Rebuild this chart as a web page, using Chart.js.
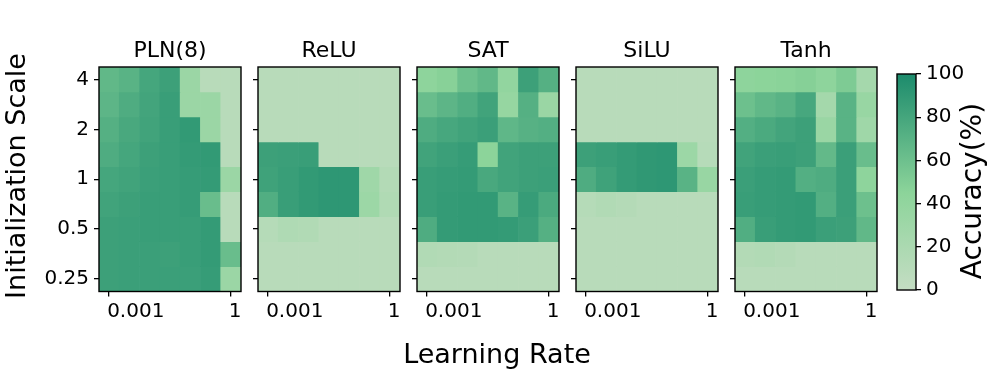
<!DOCTYPE html>
<html>
<head>
<meta charset="utf-8">
<script src="https://cdn.jsdelivr.net/npm/chart.js@4"></script>
<style>
  body { margin: 0; background: #fff; }
  #wrap { position: relative; width: 996px; height: 374px; overflow: hidden; font-family: "DejaVu Sans", sans-serif; }
  canvas { position: absolute; top: 0; }
  .lbl { position: absolute; font-size: 27px; line-height: 26px; color: #000; text-align: center; white-space: nowrap; }
  .ttl { position: absolute; font-size: 22px; line-height: 26px; color: #000; text-align: center; white-space: nowrap; top: 37px; width: 142px; }
</style>
</head>
<body>
<div id="wrap">
  <canvas id="c0" width="262" height="374"></canvas>
  <canvas id="c1" width="262" height="374"></canvas>
  <canvas id="c2" width="262" height="374"></canvas>
  <canvas id="c3" width="262" height="374"></canvas>
  <canvas id="c4" width="262" height="374"></canvas>
  <canvas id="cb" width="116" height="374"></canvas>
  <div class="ttl" id="t0"></div>
  <div class="ttl" id="t1"></div>
  <div class="ttl" id="t2"></div>
  <div class="ttl" id="t3"></div>
  <div class="ttl" id="t4"></div>
  <div class="lbl" style="left:0; width:994px; top:341px;">Learning Rate</div>
  <div class="lbl" style="left:-134px; width:300px; top:163px; transform:rotate(-90deg);">Initialization Scale</div>
  <div class="lbl" style="left:822px; width:300px; top:178px; font-size:28px; transform:rotate(-90deg);">Accuracy(%)</div>
</div>
<script>
// learning rates (columns) and init scales (rows, top to bottom)
const lrLabels = ['0.001', '0.00316', '0.01', '0.0316', '0.1', '0.316', '1'];
const scaleLabels = ['4', '2.83', '2', '1.41', '1', '0.71', '0.5', '0.35', '0.25'];
const xTickIdx = [0, 6];
const yTickIdx = [0, 2, 4, 6, 8];
const panelTitles = ['PLN(8)', 'ReLU', 'SAT', 'SiLU', 'Tanh'];
const cbTicks = [0, 20, 40, 60, 80, 100];

// accuracy (%) per cell, rows top (scale 4) to bottom (scale 0.25)
const pln = [
  [66, 70, 80, 84, 33, 10, 10],
  [68, 75, 81, 86, 33, 33, 10],
  [72, 78, 82, 86, 89, 33, 10],
  [75, 80, 84, 86, 88, 89, 10],
  [80, 82, 85, 86, 87, 88, 33],
  [82, 84, 86, 86, 87, 62, 10],
  [84, 85, 86, 86, 86, 88, 10],
  [84, 85, 85, 84, 86, 88, 62],
  [84, 85, 85, 85, 85, 87, 33]
];
const relu = [
  [10, 10, 10, 10, 10, 10, 10],
  [10, 10, 10, 10, 10, 10, 10],
  [10, 10, 10, 10, 10, 10, 10],
  [84, 85, 86, 10, 10, 10, 10],
  [83, 86, 89, 91, 91, 30, 14],
  [74, 86, 89, 91, 91, 32, 16],
  [12, 17, 15, 10, 10, 10, 10],
  [10, 10, 10, 10, 10, 10, 10],
  [10, 10, 10, 10, 10, 10, 10]
];
const sat = [
  [43, 47, 60, 66, 40, 84, 72],
  [62, 68, 74, 82, 37, 72, 34],
  [75, 79, 82, 85, 67, 71, 73],
  [82, 85, 87, 45, 82, 84, 84],
  [86, 87, 88, 78, 82, 84, 85],
  [86, 88, 89, 89, 70, 87, 77],
  [75, 88, 89, 89, 88, 85, 72],
  [15, 14, 13, 10, 10, 10, 10],
  [10, 10, 10, 10, 10, 10, 10]
];
const silu = [
  [10, 10, 10, 10, 10, 10, 10],
  [10, 10, 10, 10, 10, 10, 10],
  [10, 10, 10, 10, 10, 10, 10],
  [84, 86, 88, 90, 91, 32, 11],
  [75, 83, 88, 90, 91, 70, 35],
  [12, 15, 13, 10, 10, 10, 10],
  [10, 10, 10, 10, 10, 10, 10],
  [10, 10, 10, 10, 10, 10, 10],
  [10, 10, 10, 10, 10, 10, 10]
];
const tanh = [
  [43, 45, 46, 48, 43, 52, 25],
  [60, 66, 70, 79, 26, 70, 35],
  [73, 77, 81, 84, 34, 70, 30],
  [82, 85, 86, 84, 65, 85, 62],
  [85, 87, 88, 73, 75, 85, 43],
  [86, 87, 88, 89, 73, 85, 60],
  [74, 86, 88, 89, 85, 84, 66],
  [14, 15, 13, 10, 10, 10, 10],
  [10, 10, 10, 10, 10, 10, 10]
];
const panels = [pln, relu, sat, silu, tanh];

// colormap: light grey-green -> light green -> teal
const cmapStops = [
  [0, [196, 221, 195]],
  [0.45, [140, 212, 154]],
  [1, [28, 139, 108]]
];
function cmap(v) {
  const t = Math.max(0, Math.min(1, v / 100));
  for (let i = 1; i < cmapStops.length; i++) {
    const [t1, c1] = cmapStops[i];
    const [t0, c0] = cmapStops[i - 1];
    if (t <= t1) {
      const f = (t - t0) / (t1 - t0);
      const c = c0.map((a, k) => Math.round(a + (c1[k] - a) * f));
      return 'rgb(' + c.join(',') + ')';
    }
  }
}

const panelLeft = [99, 258, 417, 576, 735];
const panelW = 142;
const areaTop = 67;
const areaBottom = 291.5;
const fontTick = { family: 'DejaVu Sans', size: 20 };

// draws the black frame around the plot area
const frame = {
  id: 'frame',
  afterDatasetsDraw(chart) {
    const a = chart.chartArea, ctx = chart.ctx;
    ctx.save();
    ctx.strokeStyle = '#000';
    ctx.lineWidth = 1.4;
    ctx.strokeRect(a.left, a.top, a.right - a.left, a.bottom - a.top);
    ctx.restore();
  }
};

Chart.defaults.font.family = 'DejaVu Sans';
Chart.defaults.color = '#000';

panels.forEach((grid, p) => {
  const cv = document.getElementById('c' + p);
  cv.style.left = (panelLeft[p] - 100) + 'px';
  const t = document.getElementById('t' + p);
  t.textContent = panelTitles[p];
  t.style.left = panelLeft[p] + 'px';
  const datasets = grid.map((row, r) => ({
    label: scaleLabels[r],
    data: row.map(() => 1),
    backgroundColor: row.map(cmap),
    borderWidth: 0,
    categoryPercentage: 1,
    barPercentage: 1
  }));
  new Chart(cv, {
    type: 'bar',
    data: { labels: lrLabels, datasets: datasets },
    options: {
      responsive: false,
      animation: false,
      layout: { padding: { left: 0, right: 262 - 100 - panelW, top: areaTop, bottom: 0 } },
      plugins: {
        legend: { display: false },
        tooltip: { enabled: false }
      },
      scales: {
        x: {
          stacked: true,
          grid: { drawOnChartArea: false, offset: false, color: '#000', lineWidth: 1.3, tickLength: 5 },
          border: { display: false },
          afterBuildTicks: s => { s.ticks = xTickIdx.map(i => ({ value: i })); },
          ticks: { font: fontTick, color: '#000', padding: 3, maxRotation: 0, autoSkip: false,
                   align: 'start', labelOffset: -2,
                   callback: v => lrLabels[v] },
          afterFit: s => { s.height = 374 - areaBottom; }
        },
        y: {
          stacked: true,
          reverse: true,
          min: 0,
          max: 9,
          grid: { drawOnChartArea: false, color: '#000', lineWidth: 1.3, tickLength: 5 },
          border: { display: false },
          afterBuildTicks: s => { s.ticks = yTickIdx.map(i => ({ value: i + 0.5 })); },
          ticks: { font: fontTick, color: '#000', padding: 5, autoSkip: false,
                   callback: v => p === 0 ? scaleLabels[Math.round(v - 0.5)] : '' },
          afterFit: s => { s.width = 100; }
        }
      }
    },
    plugins: [frame]
  });
});

// colorbar
const cbv = document.getElementById('cb');
cbv.style.left = '880px';
new Chart(cbv, {
  type: 'bar',
  data: {
    labels: [''],
    datasets: [{
      data: [100],
      borderWidth: 0,
      categoryPercentage: 1,
      barPercentage: 1,
      backgroundColor: c => {
        const a = c.chart.chartArea;
        if (!a) return null;
        const g = c.chart.ctx.createLinearGradient(0, a.bottom, 0, a.top);
        cmapStops.forEach(([t, col]) => g.addColorStop(t, 'rgb(' + col.join(',') + ')'));
        return g;
      }
    }]
  },
  options: {
    responsive: false,
    animation: false,
    layout: { padding: { left: 17, right: 0, top: 74, bottom: 374 - 290 } },
    plugins: { legend: { display: false }, tooltip: { enabled: false } },
    scales: {
      x: { display: false },
      y: {
        position: 'right',
        min: 0,
        max: 100,
        grid: { drawOnChartArea: false, color: '#000', lineWidth: 1.3, tickLength: 5 },
        border: { display: false },
        afterBuildTicks: s => { s.ticks = cbTicks.map(v => ({ value: v })); },
        ticks: { font: fontTick, color: '#000', padding: 5 },
        afterFit: s => { s.width = 116 - 17 - 19; }
      }
    }
  },
  plugins: [frame]
});
</script>
</body>
</html>
